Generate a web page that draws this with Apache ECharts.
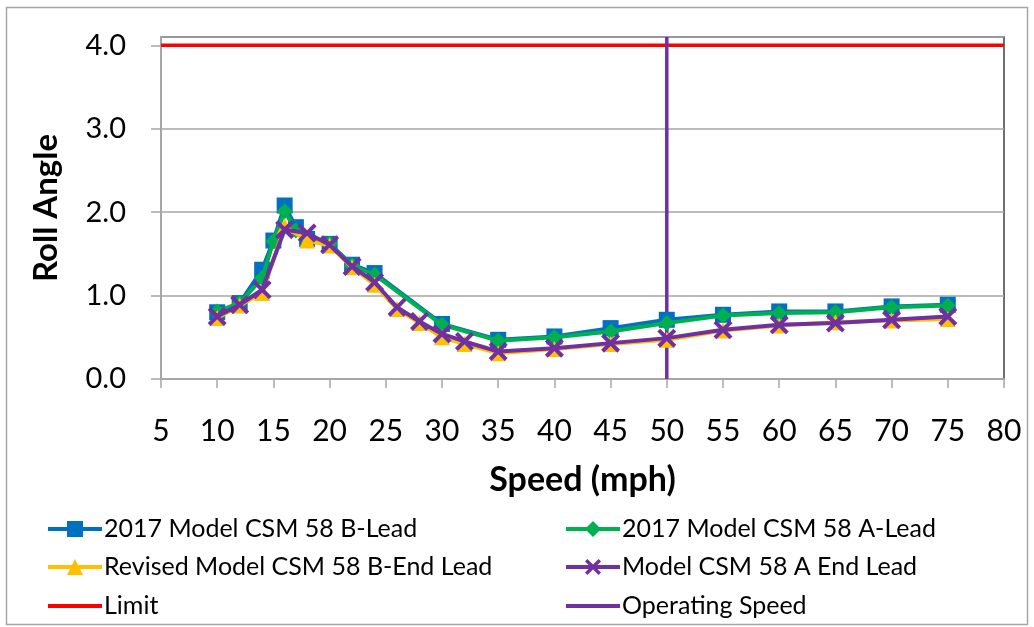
<!DOCTYPE html>
<html>
<head>
<meta charset="utf-8">
<script src="https://cdn.jsdelivr.net/npm/echarts@6/dist/echarts.min.js"></script>
<style>
html,body{margin:0;padding:0;background:#fff;}
#chart{width:1034px;height:627px;}
</style>
</head>
<body>
<div id="chart"></div>
<script>
// ---- data ----
var speedsB = [10, 12, 14, 15, 16, 17, 18, 20, 22, 24, 30, 35, 40, 45, 50, 55, 60, 65, 70, 75];
var bLead2017 = [0.80, 0.91, 1.31, 1.66, 2.08, 1.82, 1.68, 1.62, 1.37, 1.27, 0.66, 0.47, 0.51, 0.61, 0.71, 0.77, 0.81, 0.81, 0.87, 0.89];
var aLead2017 = [0.81, 0.91, 1.21, 1.65, 2.01, 1.78, 1.66, 1.62, 1.36, 1.25, 0.65, 0.46, 0.50, 0.57, 0.67, 0.76, 0.79, 0.80, 0.86, 0.88];

var speedsR = [10, 12, 14, 16, 18, 20, 22, 24, 26, 28, 30, 32, 35, 40, 45, 50, 55, 60, 65, 70, 75];
var revisedBEnd = [0.73, 0.88, 1.03, 1.83, 1.66, 1.60, 1.34, 1.13, 0.84, 0.67, 0.50, 0.42, 0.31, 0.36, 0.42, 0.47, 0.58, 0.64, 0.68, 0.70, 0.72];
var modelAEnd = [0.75, 0.89, 1.07, 1.79, 1.75, 1.61, 1.35, 1.16, 0.86, 0.69, 0.54, 0.45, 0.33, 0.37, 0.43, 0.49, 0.59, 0.65, 0.67, 0.71, 0.75];

var limitValue = 4.0;
var limitRange = [5, 80];
var operatingSpeed = 50;
var operatingRange = [0, 4.1];

var xTicks = [5, 10, 15, 20, 25, 30, 35, 40, 45, 50, 55, 60, 65, 70, 75, 80];
var yTicks = [0, 1, 2, 3, 4];

var names = ['2017 Model CSM 58 B-Lead', '2017 Model CSM 58 A-Lead',
             'Revised Model CSM 58 B-End Lead', 'Model CSM 58 A End Lead',
             'Limit', 'Operating Speed'];

function zip(xs, ys) { return xs.map(function (x, i) { return [x, ys[i]]; }); }

var FONT = 'Lato';
var xSymbol = 'path://M0,3 L3,0 L10,7 L17,0 L20,3 L13,10 L20,17 L17,20 L10,13 L3,20 L0,17 L7,10 Z';

// legend placement: [name index, left, row center]
var legendSlots = [[0, 46, 529], [1, 564, 529], [2, 46, 567], [3, 564, 567], [4, 46, 606], [5, 564, 606]];
var legends = legendSlots.map(function (s) {
  var item = { name: names[s[0]] };
  if (s[0] >= 4) { item.itemStyle = { opacity: 0 }; }
  return {
    data: [item], left: s[1], top: s[2] - 14, padding: 0,
    itemWidth: 54, itemHeight: 20, itemGap: 0,
    lineStyle: { width: 4 },
    textStyle: { fontSize: 25, lineHeight: 28, color: '#000', fontFamily: FONT, padding: [0, 0, 0, -3] }
  };
});

var chart = echarts.init(document.getElementById('chart'));
var option = {
  backgroundColor: '#fff',
  animation: false,
  textStyle: { fontFamily: FONT },
  graphic: [{
    type: 'rect', shape: { x: 6.5, y: 7.5, width: 1021, height: 617 },
    style: { fill: 'none', stroke: '#a6a6a6', lineWidth: 1.5 }, silent: true, z: -1
  }],
  grid: {
    left: 161, right: 30, top: 37, bottom: 248,
    show: true, borderColor: '#404040', borderWidth: 1.5, backgroundColor: 'transparent'
  },
  legend: legends,
  xAxis: {
    type: 'value', min: xTicks[0], max: xTicks[xTicks.length - 1], interval: 5,
    name: 'Speed (mph)', nameLocation: 'middle', nameGap: 84,
    nameTextStyle: { fontSize: 34, fontWeight: 'bold', color: '#000', fontFamily: FONT },
    axisLine: { lineStyle: { color: '#a6a6a6', width: 2 } },
    axisTick: { show: true, length: 9, lineStyle: { color: '#a6a6a6', width: 1.5 } },
    axisLabel: { fontSize: 30, color: '#000', margin: 37, fontFamily: FONT },
    splitLine: { show: false }
  },
  yAxis: {
    type: 'value', min: yTicks[0], max: 4.1, interval: 1,
    name: 'Roll Angle', nameLocation: 'middle', nameGap: 98,
    nameTextStyle: { fontSize: 33, fontWeight: 'bold', color: '#000', fontFamily: FONT },
    axisLine: { show: true, lineStyle: { color: '#a6a6a6', width: 2 } },
    axisTick: { show: true, length: 10, lineStyle: { color: '#a6a6a6', width: 1.5 } },
    axisLabel: {
      fontSize: 29, color: '#000', margin: 35, fontFamily: FONT, showMaxLabel: false,
      formatter: function (v) { return yTicks.indexOf(v) >= 0 ? v.toFixed(1) : ''; }
    },
    splitLine: { show: true, lineStyle: { color: '#a6a6a6', width: 1.5 } }
  },
  series: [
    {
      name: names[4], type: 'line', data: [[limitRange[0], limitValue], [limitRange[1], limitValue]],
      showSymbol: false, symbol: 'none', lineStyle: { color: '#ff0000', width: 3.5 }, itemStyle: { color: '#ff0000' }, z: 1
    },
    {
      name: names[5], type: 'line', data: [[operatingSpeed, operatingRange[0]], [operatingSpeed, operatingRange[1]]],
      showSymbol: false, symbol: 'none', lineStyle: { color: '#7030a0', width: 3.5 }, itemStyle: { color: '#7030a0' }, z: 1
    },
    {
      name: names[0], type: 'line', data: zip(speedsB, bLead2017),
      symbol: 'rect', symbolSize: 16, lineStyle: { color: '#0070c0', width: 4 }, itemStyle: { color: '#0070c0' }, z: 2
    },
    {
      name: names[1], type: 'line', data: zip(speedsB, aLead2017),
      symbol: 'diamond', symbolSize: 16, lineStyle: { color: '#00b050', width: 4 }, itemStyle: { color: '#00b050' }, z: 3
    },
    {
      name: names[2], type: 'line', data: zip(speedsR, revisedBEnd),
      symbol: 'triangle', symbolSize: 16, lineStyle: { color: '#ffc000', width: 4 }, itemStyle: { color: '#ffc000' }, z: 4
    },
    {
      name: names[3], type: 'line', data: zip(speedsR, modelAEnd),
      symbol: xSymbol, symbolSize: 19, lineStyle: { color: '#7030a0', width: 4 }, itemStyle: { color: '#7030a0' }, z: 5
    }
  ]
};
chart.setOption(option);
</script>
</body>
</html>
